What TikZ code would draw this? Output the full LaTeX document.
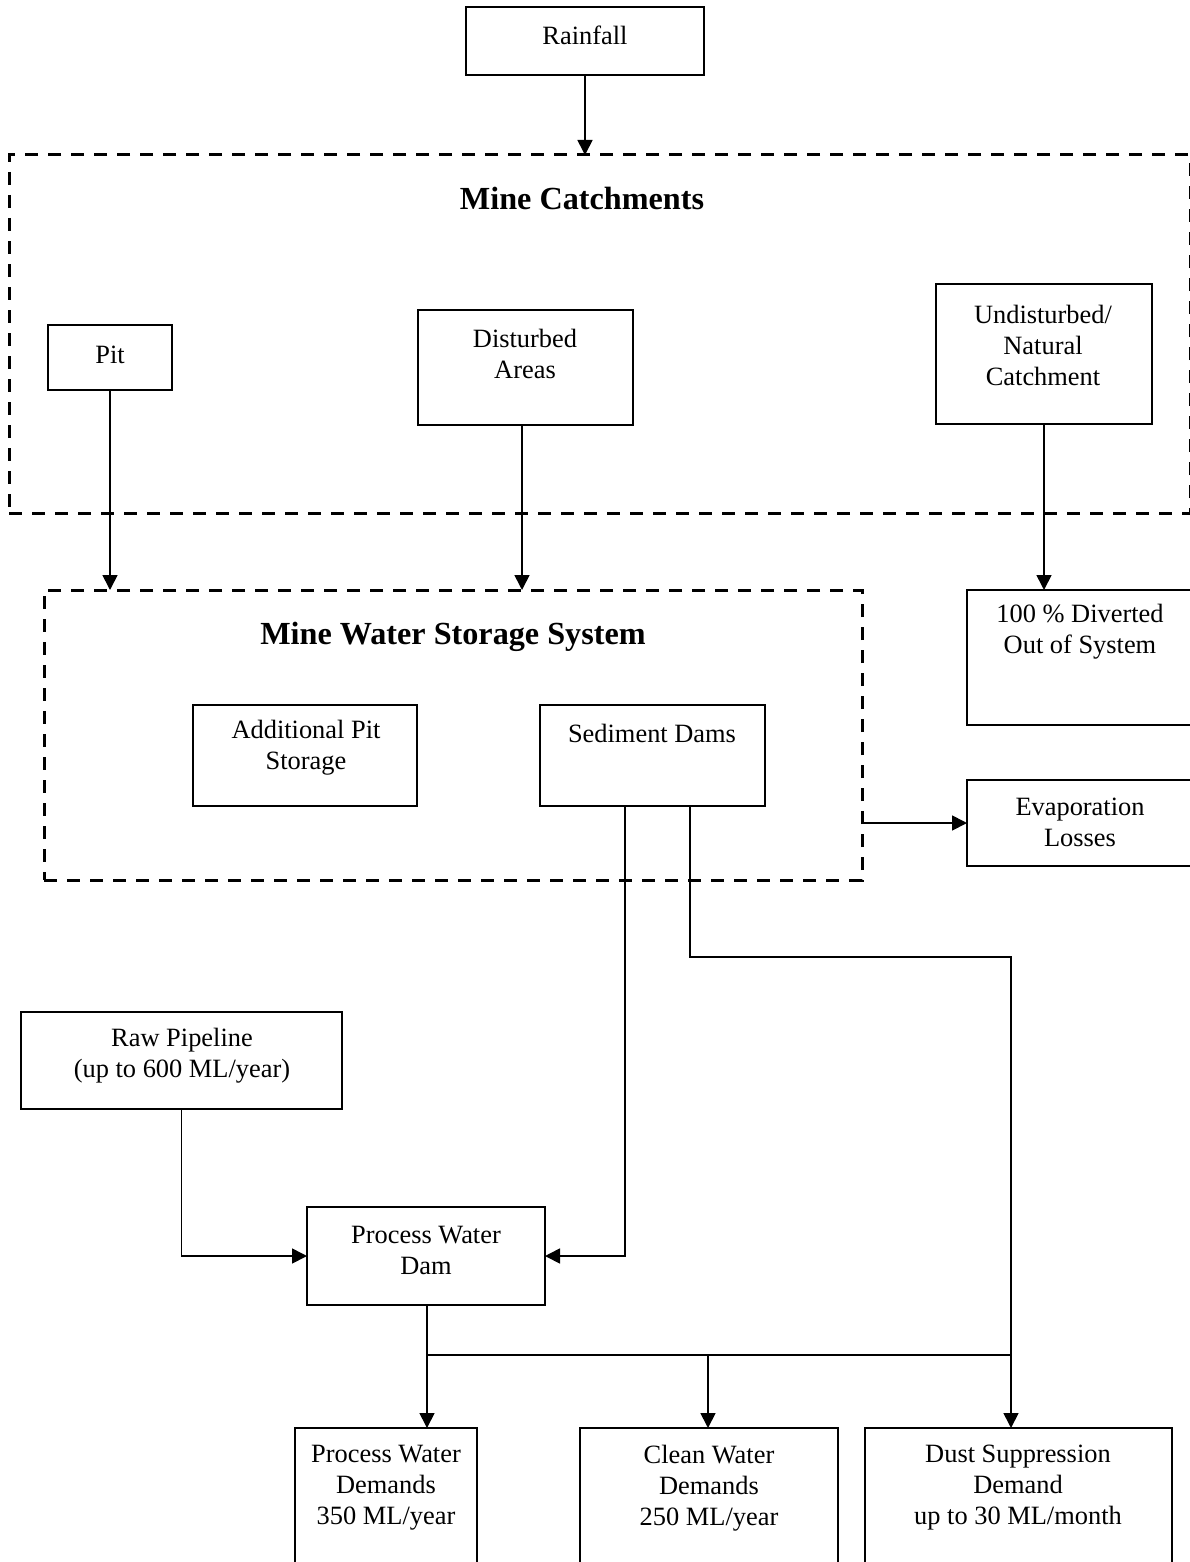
\documentclass[tikz,border=0pt]{standalone}
\usepackage{fontspec}
\setmainfont{Liberation Serif}
\usetikzlibrary{arrows.meta}
\begin{document}
\begin{tikzpicture}[x=1pt,y=-1pt,
  box/.style={draw,line width=1.7pt,inner sep=0pt,outer sep=0pt,anchor=north west},
  dbox/.style={draw,line width=3pt,dash pattern=on 13pt off 10pt,inner sep=0pt,outer sep=0pt,anchor=north west},
  txt/.style={font=\fontsize{26.4}{31}\selectfont,align=center,inner sep=0pt},
  ttl/.style={font=\fontsize{32.2}{37}\selectfont\bfseries,align=center,inner sep=0pt},
  conn/.style={line width=1.7pt},
  arr/.style={line width=1.7pt,-{Triangle[length=15pt,width=15pt]}}
]
\useasboundingbox (0,0) rectangle (1190,1562);
\clip (0,0) rectangle (1190,1562);
\fill[white] (0,0) rectangle (1190,1562);

% boxes
\node[box,minimum width=238pt,minimum height=68pt] (rain) at (466,7) {};
\node[dbox,minimum width=1181pt,minimum height=358pt] (mc) at (9,155) {};
\node[box,minimum width=124pt,minimum height=65pt] (pit) at (48,325) {};
\node[box,minimum width=215pt,minimum height=115pt] (dist) at (418,310) {};
\node[box,minimum width=216pt,minimum height=140pt] (und) at (936,284) {};
\node[dbox,minimum width=818pt,minimum height=290pt] (mws) at (44,590) {};
\node[box,minimum width=224pt,minimum height=101pt] (aps) at (193,705) {};
\node[box,minimum width=225pt,minimum height=101pt] (sed) at (540,705) {};
\node[box,minimum width=260pt,minimum height=135pt] (div) at (967,590) {};
\node[box,minimum width=260pt,minimum height=86pt] (evap) at (967,780) {};
\node[box,minimum width=321pt,minimum height=97pt] (raw) at (21,1012) {};
\node[box,minimum width=238pt,minimum height=98pt] (pwd) at (307,1207) {};
\node[box,minimum width=182pt,minimum height=180pt] (pwdem) at (295,1428) {};
\node[box,minimum width=258pt,minimum height=180pt] (clean) at (580,1428) {};
\node[box,minimum width=307pt,minimum height=180pt] (dust) at (865,1428) {};

% texts
\node[txt] (rainT) at (585,35) {Rainfall};
\node[ttl] (mcT) at (582,198) {Mine Catchments};
\node[txt] (pitT) at (110,355) {Pit};
\node[txt] (distT) at (525,354) {Disturbed\\Areas};
\node[txt] (undT) at (1043,345) {Undisturbed/\\Natural\\Catchment};
\node[ttl] (mwsT) at (453,637) {Mine Water Storage System};
\node[txt] (apsT) at (306,748) {Additional Pit\\Storage};
\node[txt] (sedT) at (652,733) {Sediment Dams};
\node[txt] (divT) at (1080,632) {100 \% Diverted\\Out of System};
\node[txt] (evapT) at (1080,822) {Evaporation\\Losses};
\node[txt] (rawT) at (182,1056) {Raw Pipeline\\(up to 600 ML/year)};
\node[txt] (pwdT) at (426,1250) {Process Water\\Dam};
\node[txt] (pwdemT) at (386,1488) {Process Water\\Demands\\350 ML/year};
\node[txt] (cleanT) at (709,1488) {Clean Water\\Demands\\250 ML/year};
\node[txt] (dustT) at (1018,1488) {Dust Suppression\\Demand\\up to 30 ML/month};

% junction coordinates
\coordinate (j1) at (1011,957);
\coordinate (j2) at (427,1355);
\coordinate (j3) at (708,1355);

% connectors
\draw[arr] (rain.south) -- (rain.south |- mc.north);
\draw[arr] (pit.south) -- (pit.south |- mws.north);
\draw[arr] ([xshift=-3.5pt]dist.south) -- ([xshift=-3.5pt]dist.south |- mws.north);
\draw[arr] (und.south) -- (und.south |- div.north);
\draw[arr] (mws.east |- evap.west) -- (evap.west);
\draw[arr] ([xshift=-27.5pt]sed.south) |- (pwd.east);
\draw[arr] ([xshift=37.5pt]sed.south) |- (j1) -- (j1 |- dust.north);
\draw[arr] (raw.south) |- (pwd.west);
\draw[arr] (j2 |- pwd.south) -- (j2 |- pwdem.north);
\draw[conn] (j2) -- (j2 -| j1);
\draw[arr] (j3) -- (j3 |- clean.north);
\end{tikzpicture}
\end{document}
